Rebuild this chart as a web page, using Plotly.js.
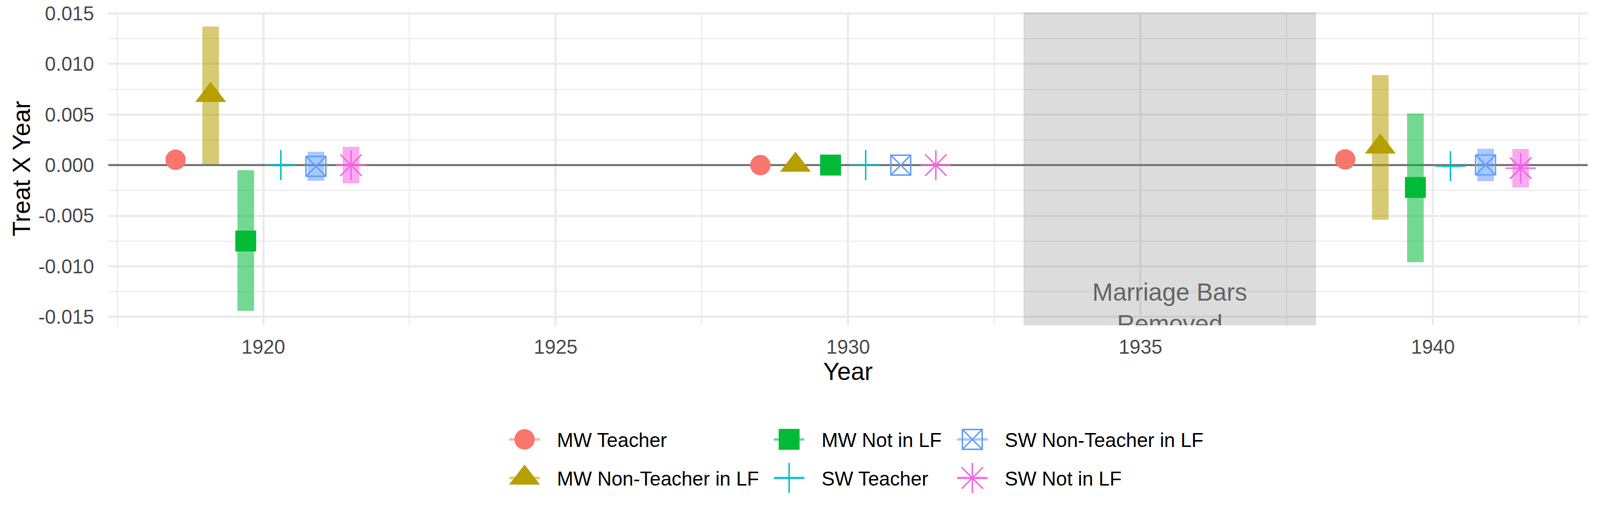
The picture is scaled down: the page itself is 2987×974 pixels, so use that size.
<!DOCTYPE html>
<html>
<head>
<meta charset="utf-8">
<script src="https://cdn.plot.ly/plotly-3.0.1.min.js"></script>
<style>
html, body { margin: 0; padding: 0; background: #ffffff; }
#chart { width: 2987px; height: 974px; }
</style>
</head>
<body>
<div id="chart"></div>
<script>
// ---------------- data ----------------
const years = [1920, 1930, 1940];
const seriesNames = ["MW Teacher", "MW Non-Teacher in LF", "MW Not in LF",
                     "SW Teacher", "SW Non-Teacher in LF", "SW Not in LF"];

const mwTeacherEst = [0.00053, 0.0, 0.00056];
const mwTeacherLo  = [0.00025, 0.0, 0.00028];
const mwTeacherHi  = [0.00081, 0.0, 0.00084];

const mwNonTeacherEst = [0.0069, 0.0, 0.0018];
const mwNonTeacherLo  = [0.0001, 0.0, -0.0054];
const mwNonTeacherHi  = [0.0137, 0.0, 0.0089];

const mwNotLFEst = [-0.0075, 0.0, -0.0022];
const mwNotLFLo  = [-0.0144, 0.0, -0.0096];
const mwNotLFHi  = [-0.0005, 0.0, 0.0051];

const swTeacherEst = [0.0000, 0.0, -0.0001];
const swTeacherLo  = [-0.00013, 0.0, -0.00022];
const swTeacherHi  = [0.00013, 0.0, 0.00002];

const swNonTeacherEst = [-0.00012, 0.0, 0.00002];
const swNonTeacherLo  = [-0.00155, 0.0, -0.00158];
const swNonTeacherHi  = [0.00132, 0.0, 0.00162];

const swNotLFEst = [0.0000, 0.0, -0.0003];
const swNotLFLo  = [-0.0018, 0.0, -0.0022];
const swNotLFHi  = [0.0018, 0.0, 0.0016];

const xTickVals = [1920, 1925, 1930, 1935, 1940];
const xTickText = ["1920", "1925", "1930", "1935", "1940"];
const yTickVals = [-0.015, -0.010, -0.005, 0.000, 0.005, 0.010, 0.015];
const yTickText = ["-0.015", "-0.010", "-0.005", "0.000", "0.005", "0.010", "0.015"];

const xTitle = "Year";
const yTitle = "Treat X Year";

const shadedStart = 1933;
const shadedEnd = 1938;
const shadedLabel = "Marriage Bars<br>Removed";
const shadedLabelX = [1935.5];
const shadedLabelY = [-0.01435];

// ---------------- styling ----------------
const W = 2987, H = 974;
const M = { l: 202, r: 23, t: 23, b: 367 };
const FONT = "Liberation Sans, Arial, Helvetica, sans-serif";
const estimates = [mwTeacherEst, mwNonTeacherEst, mwNotLFEst, swTeacherEst, swNonTeacherEst, swNotLFEst];
const lows  = [mwTeacherLo, mwNonTeacherLo, mwNotLFLo, swTeacherLo, swNonTeacherLo, swNotLFLo];
const highs = [mwTeacherHi, mwNonTeacherHi, mwNotLFHi, swTeacherHi, swNonTeacherHi, swNotLFHi];
const colors = ["#F8766D", "#B79F00", "#00BA38", "#00BFC4", "#619CFF", "#F564E3"];
const symbols = ["circle", "triangle-up", "square", "cross-thin-open", "square-x-open", "asterisk-open"];
const sizes = [38, 50, 39, 40, 37, 47];
const strokeW = [0, 0, 0, 2.7, 2.7, 2.7];
const dodge = [-1.5, -0.9, -0.3, 0.3, 0.9, 1.5];
const ciAlpha = 0.55;

function rgba(hex, a) {
  const r = parseInt(hex.slice(1, 3), 16), g = parseInt(hex.slice(3, 5), 16), b = parseInt(hex.slice(5, 7), 16);
  return `rgba(${r},${g},${b},${a})`;
}

// legend geometry (container px): symbol centres, key line length
const legendColX = [979.3, 1473.2, 1815.2];
const legendRowY = [820, 892];
const legendItemWidth = 111;
const legendLineLen = 57;
const centerPos = (legendItemWidth + 10) / 2;

const traces = [];
seriesNames.forEach((name, s) => {
  const legendId = s === 0 ? "legend" : "legend" + (s + 1);
  years.forEach((yr, k) => {
    const est = estimates[s][k];
    traces.push({
      type: "scatter",
      mode: "lines+markers",
      name: name,
      legendgroup: name,
      legend: legendId,
      showlegend: k === 0,
      x: [yr + dodge[s]],
      y: [est],
      line: { color: rgba(colors[s], ciAlpha), width: 4.7 },
      marker: {
        symbol: symbols[s],
        size: sizes[s],
        color: colors[s],
        line: { color: colors[s], width: strokeW[s] }
      },
      error_y: {
        type: "data",
        symmetric: false,
        array: [highs[s][k] - est],
        arrayminus: [est - lows[s][k]],
        color: rgba(colors[s], ciAlpha),
        thickness: 31,
        width: 0
      },
      cliponaxis: true,
      hoverinfo: "skip"
    });
  });
});

traces.push({
  type: "scatter",
  mode: "text",
  x: shadedLabelX,
  y: shadedLabelY,
  text: [shadedLabel],
  textposition: "middle center",
  textfont: { family: FONT, size: 46, color: "#5E5E5E" },
  cliponaxis: true,
  showlegend: false,
  hoverinfo: "skip"
});

const plotW = W - M.l - M.r;
const layout = {
  width: W,
  height: H,
  margin: { l: M.l, r: M.r, t: M.t, b: M.b, pad: 0, autoexpand: false },
  paper_bgcolor: "#ffffff",
  plot_bgcolor: "#ffffff",
  font: { family: FONT, color: "#000000" },
  showlegend: true,
  hovermode: false,
  xaxis: {
    range: [1917.348, 1942.646],
    automargin: true,
    tickmode: "array",
    tickvals: xTickVals,
    ticktext: xTickText,
    ticks: "",
    ticklabelstandoff: 15,
    tickfont: { family: FONT, size: 36.7, color: "#4D4D4D" },
    showgrid: true,
    gridcolor: "#EBEBEB",
    gridwidth: 4,
    minor: { tickmode: "linear", tick0: 1917.5, dtick: 5, showgrid: true, gridcolor: "#EBEBEB", gridwidth: 2 },
    zeroline: false,
    showline: false,
    title: { text: xTitle, font: { family: FONT, size: 45.8, color: "#000000" }, standoff: 0 }
  },
  yaxis: {
    range: [-0.01583, 0.01510],
    tickmode: "array",
    tickvals: yTickVals,
    ticktext: yTickText,
    ticks: "outside",
    ticklen: 18,
    tickcolor: "rgba(0,0,0,0)",
    tickfont: { family: FONT, size: 36.7, color: "#4D4D4D" },
    showgrid: true,
    gridcolor: "#EBEBEB",
    gridwidth: 4,
    minor: { tickmode: "linear", tick0: -0.0125, dtick: 0.005, showgrid: true, gridcolor: "#EBEBEB", gridwidth: 2 },
    zeroline: true,
    zerolinecolor: "#7A7A7A",
    zerolinewidth: 4,
    showline: false
  },
  annotations: [
    {
      // y-axis title (rotated), placed left of the tick labels
      text: yTitle,
      xref: "paper", yref: "paper",
      x: (40 - M.l) / plotW, y: 0.5,
      xanchor: "center", yanchor: "middle",
      textangle: -90,
      showarrow: false,
      font: { family: FONT, size: 45.8, color: "#000000" }
    }
  ],
  shapes: [
    {
      type: "rect", layer: "above",
      xref: "x", yref: "paper",
      x0: shadedStart, x1: shadedEnd, y0: 0, y1: 1,
      fillcolor: "rgba(127,127,127,0.27)",
      line: { width: 0 }
    }
  ]
};

seriesNames.forEach((name, s) => {
  const key = s === 0 ? "legend" : "legend" + (s + 1);
  const col = Math.floor(s / 2), row = s % 2;
  layout[key] = {
    xref: "container", yref: "container",
    x: (legendColX[col] - centerPos) / W,
    y: 1 - legendRowY[row] / H,
    xanchor: "left", yanchor: "middle",
    orientation: "v",
    bgcolor: "rgba(0,0,0,0)",
    borderwidth: 0,
    itemwidth: legendItemWidth,
    itemclick: false, itemdoubleclick: false,
    font: { family: FONT, size: 36.7, color: "#000000" }
  };
});

// Plotly caps legend symbols at 16px: scale them to the plotted marker size,
// and keep the key line as short as in the reference.
function styleLegendKeys(gd) {
  gd.querySelectorAll("g.traces").forEach(g => {
    const d = g.__data__;
    if (!d || !d[0] || !d[0].trace || !d[0].trace.marker) return;
    const k = d[0].trace.marker.size / 16;
    g.querySelectorAll(".legendpoints path.scatterpts").forEach(p => {
      p.setAttribute("transform", `translate(${centerPos},0) scale(${k})`);
      p.style.vectorEffect = "non-scaling-stroke";
    });
    g.querySelectorAll(".legendlines path").forEach(p => {
      p.setAttribute("d", `M${centerPos - legendLineLen / 2},0h${legendLineLen}`);
    });
  });
}

Plotly.newPlot("chart", traces, layout, { displayModeBar: false, staticPlot: true }).then(gd => {
  styleLegendKeys(gd);
  gd.on("plotly_afterplot", () => styleLegendKeys(gd));
  setTimeout(() => styleLegendKeys(gd), 50);
  setTimeout(() => styleLegendKeys(gd), 300);
});
</script>
</body>
</html>
